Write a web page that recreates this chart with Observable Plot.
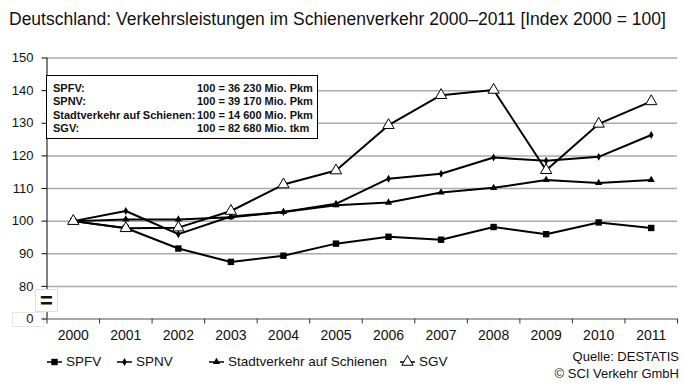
<!DOCTYPE html>
<html><head><meta charset="utf-8">
<script src="https://cdn.jsdelivr.net/npm/d3@7"></script>
<script src="https://cdn.jsdelivr.net/npm/@observablehq/plot@0.6"></script>
<style>
body{margin:0;background:#fff;font-family:"Liberation Sans",Arial,sans-serif;color:#111;}
#wrap{position:relative;width:685px;height:388px;overflow:hidden;background:#fff;}
#title{position:absolute;left:9px;top:10px;font-size:17.5px;white-space:nowrap;line-height:18px;}
#chart{position:absolute;left:0;top:40px;}
#box{position:absolute;left:46px;top:75px;width:270px;height:62px;border:1px solid #000;background:#fff;font-weight:bold;font-size:11px;}
#box div{position:absolute;white-space:nowrap;line-height:12px;}
#brk{position:absolute;left:35px;top:289px;width:21px;height:21px;border:1px solid #ddd;background:#fff;font-weight:bold;font-size:22px;line-height:21px;text-align:center;}
#zero{position:absolute;left:12px;top:312px;width:30px;height:13px;border:1px solid #e6e6e6;}
.leg{position:absolute;top:354px;font-size:13.5px;line-height:16px;white-space:nowrap;display:flex;align-items:center;}
.leg svg{margin-right:3px;}
.src{position:absolute;right:6px;font-size:13px;line-height:14px;white-space:nowrap;text-align:right;}
</style></head>
<body>
<div id="wrap">
  <div id="title">Deutschland: Verkehrsleistungen im Schienenverkehr 2000–2011 [Index 2000 = 100]</div>
  <div id="zero"></div>
  <div id="chart"></div>
  <div id="brk">=</div>
  <div id="box"></div>
  <div id="legend"></div>
  <div class="src" style="top:350px">Quelle: DESTATIS</div>
  <div class="src" style="top:367px">© SCI Verkehr GmbH</div>
</div>
<script>
// ---- data ----
const years = [2000, 2001, 2002, 2003, 2004, 2005, 2006, 2007, 2008, 2009, 2010, 2011];
const seriesNames = ["SPFV", "SPNV", "Stadtverkehr auf Schienen", "SGV"];
const spfv  = [100, 97.9, 91.6, 87.5, 89.4, 93.1, 95.2, 94.3, 98.2, 96.0, 99.6, 97.9];
const spnv  = [100, 103.1, 96.0, 101.4, 102.8, 105.3, 113.0, 114.5, 119.5, 118.5, 119.7, 126.4];
const stadt = [100, 100.5, 100.5, 101.2, 102.8, 104.9, 105.7, 108.8, 110.2, 112.6, 111.7, 112.6];
const sgv   = [100, 97.8, 98.0, 103.1, 111.2, 115.5, 129.4, 138.6, 140.2, 115.6, 129.8, 136.7];
const yTicks = [70, 80, 90, 100, 110, 120, 130, 140, 150];
const yTickLabels = ["0", "80", "90", "100", "110", "120", "130", "140", "150"];
const boxLabels = ["SPFV:", "SPNV:", "Stadtverkehr auf Schienen:", "SGV:"];
const boxValues = ["100 = 36 230 Mio. Pkm", "100 = 39 170 Mio. Pkm", "100 = 14 600 Mio. Pkm", "100 = 82 680 Mio. tkm"];

const styles = [
  {symbol: "square", r: 3.6, fill: "#000", stroke: "none"},
  {symbol: "diamond", r: 2.4, fill: "#000", stroke: "none"},
  {symbol: "triangle", r: 2.7, fill: "#000", stroke: "none"},
  {symbol: "triangle", r: 4.2, fill: "#fff", stroke: "#000"}
];
const allSeries = [spfv, spnv, stadt, sgv];

const boundaries = years.map(y => y - 0.5).concat([years[years.length - 1] + 0.5]);

const seriesMarks = allSeries.flatMap((vals, k) => [
  Plot.line(vals, {x: (d, i) => years[i], y: d => d, stroke: "#000", strokeWidth: 2}),
  Plot.dot(vals, {x: (d, i) => years[i], y: d => d, symbol: styles[k].symbol, r: styles[k].r,
                  fill: styles[k].fill, stroke: styles[k].stroke, strokeWidth: 1})
]);

const chart = Plot.plot({
  width: 685, height: 310,
  marginLeft: 46.5, marginRight: 8, marginTop: 17.5, marginBottom: 31.5,
  style: {fontFamily: "'Liberation Sans', Arial, sans-serif", background: "transparent", color: "#111"},
  x: {type: "linear", domain: [boundaries[0], boundaries[boundaries.length - 1]]},
  y: {domain: [yTicks[0], yTicks[yTicks.length - 1]]},
  marks: [
    Plot.gridY(yTicks.slice(1), {stroke: "#aaa", strokeOpacity: 1, strokeWidth: 1.5}),
    Plot.ruleY([yTicks[0]], {stroke: "#888", strokeWidth: 1.5}),
    Plot.axisX(boundaries, {tickSize: 5, tickFormat: () => "", stroke: "#333", label: null}),
    Plot.axisX(years, {tickSize: 0, tickPadding: 11, fontSize: 14, tickFormat: d => String(d), label: null}),
    Plot.axisY(yTicks, {tickSize: 5, tickPadding: 8.5, fontSize: 13, stroke: "#000",
                        tickFormat: d => yTickLabels[yTicks.indexOf(d)], label: null}),
    Plot.ruleX([boundaries[0]], {stroke: "#000", strokeWidth: 1}),
    ...seriesMarks
  ]
});
document.getElementById("chart").appendChild(chart);

// info box
const box = document.getElementById("box");
boxLabels.forEach((t, i) => {
  const a = document.createElement("div");
  a.textContent = t; a.style.left = "6px"; a.style.top = (6 + i * 13.3) + "px";
  box.appendChild(a);
  const b = document.createElement("div");
  b.textContent = boxValues[i]; b.style.left = "150px"; b.style.top = (6 + i * 13.3) + "px";
  box.appendChild(b);
});

// bottom legend
const legendLeft = [46, 116, 208, 399];
const legend = document.getElementById("legend");
seriesNames.forEach((name, k) => {
  const item = document.createElement("div");
  item.className = "leg";
  item.style.left = legendLeft[k] + "px";
  const svg = d3.create("svg").attr("width", 17).attr("height", 14);
  svg.append("line").attr("x1", 1).attr("x2", 16).attr("y1", 7).attr("y2", 7).attr("stroke", "#000").attr("stroke-width", 1.5);
  const symMap = {square: d3.symbolSquare, diamond: d3.symbolDiamond, triangle: d3.symbolTriangle};
  const r = styles[k].r;
  svg.append("path").attr("transform", "translate(8.5,7)")
    .attr("d", d3.symbol(symMap[styles[k].symbol], Math.PI * r * r)())
    .attr("fill", styles[k].fill).attr("stroke", styles[k].stroke);
  item.appendChild(svg.node());
  const s = document.createElement("span");
  s.textContent = name;
  item.appendChild(s);
  legend.appendChild(item);
});
</script>
</body></html>
